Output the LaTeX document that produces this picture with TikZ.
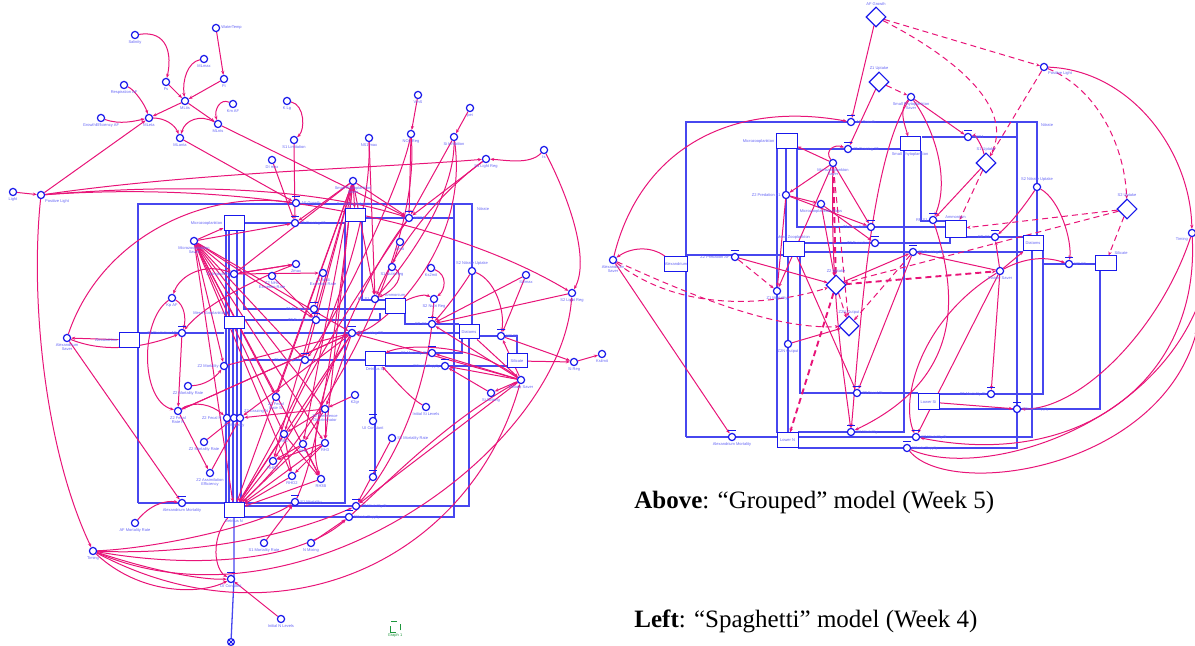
\documentclass[tikz,border=0pt]{standalone}
\usepackage{fontspec}
\setmainfont{Liberation Serif}
\newfontfamily\lblfont{Liberation Sans}
\usetikzlibrary{arrows.meta,shapes.geometric}
\pgfdeclarelayer{bg}
\pgfsetlayers{bg,main}
\definecolor{lkc}{RGB}{232,20,120}
\definecolor{blc}{RGB}{25,25,235}
\definecolor{lbc}{RGB}{100,100,245}
\definecolor{grc}{RGB}{30,150,60}
\tikzset{
 cv/.style={circle,draw=blc,line width=.6pt,minimum size=3.6pt,inner sep=0pt,fill=white},
 lbl/.style={font=\lblfont\fontsize{2}{2.3}\selectfont,text=lbc,inner sep=.4pt,align=center},
 stk/.style={draw=blc,line width=.5pt,fill=white,inner sep=0pt,font=\lblfont\fontsize{2}{2.3}\selectfont,text=lbc},
 fr/.style={draw=blc!80,line width=.65pt},
 lk/.style={draw=lkc,line width=.5pt,-{Stealth[length=2pt,width=1.6pt]}},
 dl/.style={lk,dash pattern=on 3pt off 2pt},
 tdl/.style={lk,line width=.95pt,dash pattern=on 3pt off 2pt},
 dia/.style={diamond,draw=blc,line width=.55pt,minimum size=10pt,inner sep=0pt,fill=white,aspect=1},
}
\newcommand\cnd[4]{\node[cv,label={[lbl]#4:{#3}}] (#1) at (#2) {};}
\newcommand\fnd[4]{\node[cv,label={[lbl]#4:{#3}}] (#1) at (#2) {};\draw[blc,line width=.5pt] ([xshift=-1.8pt,yshift=.9pt]#1.north)--([xshift=1.8pt,yshift=.9pt]#1.north);}
\begin{document}
\begin{tikzpicture}[x=0.5pt,y=-0.5pt]
\useasboundingbox (0,0) rectangle (1195,646);
% ================= LEFT (Spaghetti) =================
\node[stk,minimum width=10pt,minimum height=7.5pt,label={[lbl]left:Microzooplankton}] (Lmz) at (234,223.5) {};
\node[stk,minimum width=10pt,minimum height=6pt,label={[lbl]above left:Meso Zooplankton}] (Lmeso) at (234,323) {};
\node[stk,minimum width=10pt,minimum height=7.5pt,label={[lbl]left:Alexandrium}] (Lalex) at (129,340) {};
\node[stk,minimum width=10pt,minimum height=7.5pt,label={[lbl]below:Detritus N}] (Ldn) at (234,510) {};
\node[stk,minimum width=10pt,minimum height=6.5pt,label={[lbl]above:Small Phytoplankton}] (Lsp) at (355,215) {};
\node[stk,minimum width=10pt,minimum height=7.5pt,label={[lbl]above:Ammonium}] (Lamm) at (395,306) {};
\node[stk,minimum width=10pt,minimum height=7pt] (Ldia) at (469,332) {Diatoms};
\node[stk,minimum width=10pt,minimum height=7pt] (Lsil) at (517,361) {Silicate};
\node[stk,minimum width=10pt,minimum height=7pt,label={[lbl]below:Detritus Si}] (Ldsi) at (375,359) {};
\cnd{Lsal}{135,35}{Salinity}{below}
\cnd{Lwt}{216,28}{WaterTemp}{right}
\cnd{Lmlmax}{204,59}{MLmax}{below}
\cnd{Lfs}{166,82}{Fs}{below}
\cnd{Lft}{224,79}{Ft}{below}
\cnd{Lresp}{124,85}{Respiration AF}{below}
\cnd{Lmlt}{185,101}{MLtis}{below}
\cnd{Lkm}{233,104}{Km AF}{below}
\cnd{Lge}{101,118}{GrowthEfficiency AF}{below}
\cnd{Lmle}{149,118}{MLeta}{below}
\cnd{Lmln}{218,124}{MLnts}{below}
\cnd{Lmla}{180,138}{MLanta}{below}
\cnd{Lklg}{287,101}{K Lg}{below}
\cnd{Ls1l}{294,140}{S1 Limitation}{below}
\cnd{Ldi}{272,160}{DI max}{below}
\cnd{Llight}{13,192}{Light}{below}
\cnd{Lpl}{41,195}{Positive Light}{below right}
\fnd{Lafg}{296,203}{AF Growth}{right}
\cnd{Lvm}{418,95}{VmS}{below}
\cnd{Lpe}{470,108}{pei}{below}
\cnd{Lnsm}{369,138}{NS1 max}{below}
\cnd{Lnor}{411,134}{NO1 Reg}{below}
\cnd{Lsih}{454,137}{Si Inhibition}{below}
\cnd{Lis}{544,150}{Is}{below}
\cnd{Ls1lr}{486,159}{S1 Light Reg}{below}
\cnd{Lsps}{353,181}{Small Phytoplankton\\Saver}{below}
\fnd{Lz1g}{295,223}{Z1 Grazing S1}{right}
\cnd{Lmzs}{194,241}{Microzooplankton\\Saver}{below}
\cnd{Lz1i}{234,274}{Z1 Ingestion}{left}
\cnd{Lzmax}{296,264}{Zmax}{below}
\cnd{Lz2ne}{272,276}{Z2 NH4\\Excretion Rate}{below}
\cnd{Lz1ne}{323,273}{Z1 NH4\\Excretion Rate}{below}
\cnd{Lkp}{172,298}{Kp AF}{below}
\fnd{Lz1e}{314,309}{Z1 Excretion}{left}
\fnd{Lz2e}{316,320}{Z2 Excretion}{left}
\fnd{Lz2p}{182,333}{Z2 Predation AF}{left}
\cnd{Las}{67,338}{Alexandrium\\Saver}{below}
\fnd{Lz2gs2}{352,333}{Z2 Grazing S2}{right}
\fnd{Lz2gz1}{305,360}{Z2 Grazing Z1}{left}
\cnd{Lz2m}{224,366}{Z2 Mortality}{left}
\cnd{Lz2mr}{188,386}{Z2 Mortality Rate}{below}
\cnd{Lz2fs}{276,397}{Z2 Fecal\\Rate Si}{below}
\cnd{Lz2pd}{325,409}{Z2 Preference\\Discriminator}{below}
\cnd{Lk2}{355,395}{K2gr}{below}
\cnd{Lz2fr}{178,411}{Z2 Fecal\\Rate N}{below}
\cnd{Lz2fn}{227,418}{Z2 Fecal N}{left}
\cnd{Lz2mn}{234,418}{Z2 Mortality}{below}
\cnd{Lz2gn}{240,418}{Z2 Grazing N}{above right}
\cnd{Lz2mr2}{204,442}{Z2 Mortality Rate}{below}
\cnd{Lz2ae}{210,473}{Z2 Assimilation\\Efficiency}{below}
\cnd{Lrh1}{284,434}{RH1}{below}
\cnd{Lrh2}{303,444}{RH2}{below}
\cnd{Lrh3}{325,443}{RH3}{below}
\cnd{Lrh4}{273,461}{RHO1}{below}
\cnd{Lrh5}{292,476}{RHO2}{below}
\cnd{Lrh6}{321,479}{RH3B}{below}
\fnd{Lam}{182,503}{Alexandrium Mortality}{below}
\cnd{Lafmr}{135,523}{AF Mortality Rate}{below}
\fnd{Ls1m}{295,502}{S1 Mortality}{right}
\cnd{Ls1mr}{264,543}{S1 Mortality Rate}{below}
\cnd{Lnmix}{311,543}{N Mixing}{below}
\cnd{Ltim}{93,551}{Timing}{below}
\fnd{Ldic}{231,579}{DI Constant}{below}
\cnd{Linit}{281,619}{Initial N Levels}{below}
\node[cv,minimum size=3.4pt] (Lsink) at (231,642) {};
\draw[blc,line width=.4pt] (Lsink.north west) -- (Lsink.south east) (Lsink.north east) -- (Lsink.south west);
\fnd{Luic}{373,421}{UI Constant}{below}
\cnd{Ls2mr}{392,438}{S2 Mortality Rate}{right}
\fnd{Lval}{373,477}{}{below}
\fnd{Ls2mn}{356,506}{S2 Mortality N}{right}
\fnd{Lnsu}{349,517}{Nitrate Supply}{right}
\fnd{Lnps1}{409,218}{NPS1}{right}
\cnd{Lkmit}{400,242}{Kmit}{below}
\cnd{Ls1nr}{392,267}{S1 Nutri Reg}{below}
\cnd{Lks2}{431,268}{Ks2mit}{below}
\cnd{Lrps1}{375,299}{RP S1}{left}
\cnd{Ls2nr}{434,299}{S2 Nutri Reg}{below}
\fnd{Lrps2}{432,324}{RP S2}{left}
\cnd{Ls2nu}{472,271}{S2 Nitrate Uptake}{above}
\cnd{Lsi2}{526,275}{Si2max}{below}
\cnd{Ls2lr}{572,293}{S2 Light Reg}{below}
\fnd{Lnps2}{501,336}{NP S2}{right}
\cnd{Lsireg}{574,362}{Si Reg}{below}
\cnd{Lksil}{602,354}{Ksilmit}{below}
\cnd{Lds}{521,380}{Diatom Saver}{below}
\cnd{Lsis}{491,393}{Si Sinking}{below}
\cnd{Linsi}{426,407}{Initial Si Levels}{below}
\fnd{Lss}{445,366}{Silicate Supply}{left}
\fnd{Ls2ms}{432,353}{S2 Mortality Si}{left}
\node[draw=grc,dashed,line width=.3pt,minimum width=5pt,minimum height=5.5pt,inner sep=0pt,label={[lbl,text=grc]below:Graph 1}] (Lgraph) at (395,627) {};
% ================= RIGHT (Grouped) =================
\node[stk,minimum width=10.5pt,minimum height=7.5pt,label={[lbl]left:Microzooplankton}] (Rmz) at (786.5,141.5) {};
\node[stk,minimum width=10pt,minimum height=7pt,label={[lbl]below:Small Phytoplankton}] (Rspb) at (910,144) {};
\node[stk,minimum width=10.5pt,minimum height=8.5pt,label={[lbl]above:Ammonium}] (Ramm) at (955.5,229) {};
\node[stk,minimum width=10pt,minimum height=7.5pt] (Rdia) at (1033,243.5) {Diatoms};
\node[stk,minimum width=10.5pt,minimum height=7.5pt,label={[lbl]above:Meso Zooplankton}] (Rmeso) at (793.5,249) {};
\node[stk,minimum width=10pt,minimum height=7.5pt] (Ralex) at (676,264.5) {Alexandrium};
\node[stk,minimum width=10.5pt,minimum height=7.5pt,label={[lbl]above right:Silicate}] (Rsil) at (1105.5,263.5) {};
\node[stk,minimum width=10.5pt,minimum height=8pt] (Rlsi) at (928.5,402) {Lower Si};
\node[stk,minimum width=10.5pt,minimum height=7.5pt] (Rln) at (787.5,440.5) {Lower N};
\node[dia,label={[lbl]above:AF Growth}] (Rdafg) at (876,17) {};
\node[dia,label={[lbl]above:Z1 Uptake}] (Rdz1u) at (879,82) {};
\node[dia,label={[lbl]above:S1 Uptake}] (Rds1u) at (986,163) {};
\node[dia,label={[lbl]above:S2 Uptake}] (Rds2u) at (1127,209) {};
\node[dia,label={[lbl]above:Z2 Uptake}] (Rdz2u) at (836,285) {};
\node[dia,label={[lbl]above:Z2N Output}] (Rdz2n) at (849,326) {};
\cnd{Rpl}{1044,67}{Positive Light}{below right}
\cnd{Rsps}{911,97}{Small Phytoplankton\\Saver}{below}
\fnd{Rafg}{851,122}{AF Growth}{right}
\fnd{Rz1g}{848,149}{Z1 Grazing S1}{right}
\cnd{Rmzs}{833,163}{Microzooplankton\\Saver}{below}
\fnd{Rnps1}{968,137}{NPS1}{right}
\cnd{Rz2pz}{786,195}{Z2 Predation Z1}{left}
\cnd{Rmzm}{821,204}{Microzooplankton Mass}{below}
\fnd{Rz1e}{871,227}{Z1 Excretion}{left}
\cnd{Rs2nu}{1037,187}{S2 Nitrate Uptake}{above}
\fnd{Rrps1}{933,220}{RP S1}{left}
\fnd{Rrps2}{995,237}{RP S2}{left}
\fnd{Rz2e}{875,243}{Z2 Excretion}{left}
\fnd{Rz2g}{913,252}{Z2 Grazing S2}{right}
\cnd{Rds}{1000,271}{Diatom Saver}{below}
\fnd{Rnps2}{1069,264}{NP S2}{right}
\cnd{Ras}{613,260}{Alexandrium\\Saver}{below}
\fnd{Rz2p}{735,257}{Z2 Predation AF}{left}
\cnd{Rz1m}{777,291}{Z1 Mortality}{below}
\cnd{Rz2no}{788,344}{Z2N Output}{below}
\fnd{Rz2fs}{857,393}{Z2 Fecal Si}{right}
\fnd{Ram}{732,437}{Alexandrium Mortality}{below}
\fnd{Rs1m}{851,432}{S1 Mortality}{right}
\fnd{Rs2ms}{991,394}{S2 Mortality Si}{left}
\fnd{Rss}{1017,409}{Silicate Supply}{right}
\fnd{Rs2mn}{916,437}{S2 Mortality N}{right}
\fnd{Rns}{907,448}{Nitrate Supply}{right}
\cnd{Rtim}{1192,233}{Timing}{below left}
\coordinate (Redge) at (1200,300);
\coordinate (Redge2) at (1197,330);
\node[anchor=base west,inner sep=0pt,font=\fontsize{12.5}{14}\selectfont] (cap1) at (634,509) {\textbf{Above}: “Grouped” model (Week 5)};
\node[anchor=base west,inner sep=0pt,font=\fontsize{12.5}{14}\selectfont] (cap2) at (634,628) {\textbf{Left}: “Spaghetti” model (Week 4)};
\begin{pgfonlayer}{bg}
% ---------- left pipes ----------
\draw[fr] (138,503) -- (138,204) -- (472,204) -- (472,325);
\node[lbl,anchor=west] (Lnit) at (476,209) {Nitrate};
\draw[fr] (138,503) -- (224,503);
\draw[fr] (244,223) -- (345,223);
\draw[fr] (365,218) -- (454,218);
\draw[fr] (454,204) -- (454,517) -- (244,517);
\draw[fr] (469,339) -- (469,506) -- (244,506);
\draw[fr] (345,222) -- (345,503) -- (244,503);
\draw[fr] (362,222) -- (362,300) -- (386,300);
\draw[fr] (405,313) -- (405,324) -- (459,324);
\draw[fr] (139,333) -- (224,333);
\draw[fr] (244,333) -- (459,333);
\draw[fr] (244,231) -- (244,309) -- (386,309);
\draw[fr] (244,320) -- (380,320) -- (380,313);
\draw[fr] (244,360) -- (365,360);
\draw[fr] (462,339) -- (462,353) -- (385,353);
\draw[fr] (385,366) -- (507,366);
\draw[fr] (517,354) -- (517,336) -- (479,336);
\draw[fr] (375,366) -- (375,477);
\foreach \xx in {226,229,237} \draw[fr] (\xx,231) -- (\xx,318);
\foreach \xx in {226,229,233,237,241} \draw[fr] (\xx,327) -- (\xx,503);
\draw[fr] (234,518) -- (234,579) -- (Lsink);
% ---------- left links ----------
\draw[lk] (Lsal) .. controls (168,30) and (172,55) .. (Lfs);
\draw[lk] (Lwt) -- (Lft);
\draw[lk] (Lmlmax) .. controls (188,62) and (182,80) .. (Lmlt);
\draw[lk] (Lfs) -- (Lmlt);
\draw[lk] (Lft) -- (Lmlt);
\draw[lk] (Lmlt) -- (Lmle);
\draw[lk] (Lresp) .. controls (135,90) and (145,105) .. (Lmle);
\draw[lk] (Lge) .. controls (120,125) and (135,121) .. (Lmle);
\draw[lk] (Lmlt) -- (Lmln);
\draw[lk] (Lkm) .. controls (220,98) and (214,110) .. (Lmln);
\draw[lk] (Lmln) .. controls (200,114) and (185,120) .. (Lmla);
\draw[lk] (Lmle) .. controls (165,118) and (175,125) .. (Lmla);
\draw[lk] (Lpl) -- (Lmle);
\draw[lk] (Llight) -- (Lpl);
\draw[lk] (Lmla) -- (Lafg);
\draw[lk] (Lmln) -- (Lnps1);
\draw[lk] (Lklg) .. controls (305,105) and (305,130) .. (Ls1l);
\draw[lk] (Ls1l) -- (Lz1g);
\draw[lk] (Ldi) -- (Lz1g);
\draw[lk] (Lpl) .. controls (200,172) and (380,168) .. (Ls1lr);
\draw[lk] (Lpl) .. controls (200,182) and (320,190) .. (Lnps1);
\draw[lk] (Lpl) .. controls (250,180) and (450,220) .. (Ls2lr);
\draw[lk] (Lpl) .. controls (30,300) and (45,450) .. (Ltim);
\draw[lk] (Las) .. controls (100,240) and (200,190) .. (Lafg);
\draw[lk] (Lalex) -- (Las);
\draw[lk] (Las) .. controls (110,355) and (150,345) .. (Lz2p);
\draw[lk] (Las) -- (Lam);
\draw[lk] (Lkp) .. controls (185,305) and (186,320) .. (Lz2p);
\draw[lk] (Lkp) .. controls (140,320) and (140,400) .. (Lz2fr);
\draw[lk] (Lz2p) -- (Lz2fr);
\draw[lk] (Lz1i) .. controls (205,262) and (180,275) .. (Lkp);
\draw[lk] (Lzmax) .. controls (240,285) and (200,310) .. (Lz2p);
\draw[lk] (Lmzs) -- (Lmz);
\draw[lk] (Lmzs) -- (Lz1g);
\foreach \t in {Lz1i,Lz2m,Lz2gz1,Lz2e,Lrh1,Lrh3,Lz2pd,Ldn,Lrh6,Lz2gs2,Lz2fs,Lrh5}
  \draw[lk] (Lmzs) -- (\t);
\draw[lk] (Lzmax) -- (Lz1i);
\draw[lk] (Lz2ne) -- (Lz2e);
\draw[lk] (Lz1ne) -- (Lz1e);
\draw[lk] (Lz2mr) .. controls (205,385) and (215,378) .. (Lz2m);
\draw[lk] (Lz2fr) .. controls (195,400) and (212,405) .. (Lz2fn);
\draw[lk] (Lz2mr2) -- (Lz2mn);
\draw[lk] (Lz2ae) -- (Lz2gn);
\draw[lk] (Lz2fr) -- (Lz2ae);
\foreach \t in {Lrh1,Lrh2,Lrh3,Lrh4,Lrh5,Lrh6} \draw[lk] (\t) -- (Ldn);
\draw[lk] (Lrh1) -- (Lrh5);
\draw[lk] (Lrh3) -- (Lrh4);
\draw[lk] (Lrh2) -- (Lrh6);
\draw[lk] (Lrh1) -- (Lrh6);
\draw[lk] (Lrh3) -- (Lrh5);
\draw[lk] (Lrh2) -- (Lrh4);
\foreach \t in {Lrh1,Lrh2,Lrh3,Lz2gn} \draw[lk] (Lz2pd) -- (\t);
\draw[lk] (Lk2) -- (Lz2pd);
\draw[lk] (Lz2gs2) -- (Lz2pd);
\draw[lk] (Lz2gs2) -- (Lrh4);
\draw[lk] (Lz2gs2) -- (Lz2fr);
\draw[lk] (Lz2gs2) -- (Lz2gn);
\draw[lk] (Lz2gs2) -- (Ldn);
\foreach \t in {Lsp,Lz1g,Lz1i,Ldn,Lrh2,Lrh3,Lz2fs,Lz2gz1,Lrh4,Lrps1,Lnps1}
  \draw[lk] (Lsps) -- (\t);
\draw[lk] (Lnsm) -- (Lrps1);
\draw[lk] (Lvm) -- (Lnor);
\draw[lk] (Lpe) -- (Lsih);
\draw[lk] (Lnor) -- (Lnps1);
\draw[lk] (Lsih) -- (Lnps1);
\draw[lk] (Ls1lr) -- (Lnps1);
\draw[lk] (Lsih) .. controls (455,200) and (400,270) .. (Lrps1);
\draw[lk] (Ls1lr) .. controls (430,200) and (390,260) .. (Lrps1);
\draw[lk] (Lsih) .. controls (470,250) and (380,330) .. (Lz2gs2);
\draw[lk] (Lnsm) .. controls (372,250) and (300,400) .. (Ldn);
\draw[lk] (Lnor) .. controls (420,250) and (330,420) .. (Ldn);
\draw[lk] (Lnps1) .. controls (380,260) and (300,380) .. (Lrh1);
\draw[lk] (Lnps1) .. controls (360,280) and (300,420) .. (Lrh6);
\draw[lk] (Lnor) .. controls (400,190) and (330,330) .. (Lz2gz1);
\draw[lk] (Lz1i) -- (Lz1ne);
\draw[lk] (Lz1i) -- (Lzmax);
\draw[lk] (Lz2m) -- (Lz2gs2);
\draw[lk] (Lz2fr) -- (Lz2gs2);
\draw[lk] (Ldia) -- (Lds);
\draw[lk] (Lds) -- (Lnps2);
\draw[lk] (Lds) -- (Lss);
\draw[lk] (Lds) -- (Ls2ms);
\draw[lk] (Lds) -- (Lz2gs2);
\draw[lk] (Lds) -- (Lrps2);
\draw[lk] (Lds) .. controls (470,340) and (400,345) .. (Ldsi);
\draw[lk] (Ls2lr) -- (Lrps2);
\draw[lk] (Lis) .. controls (570,200) and (590,260) .. (Ls2lr);
\draw[lk] (Lis) .. controls (530,165) and (505,160) .. (Ls1lr);
\draw[lk] (Lsi2) -- (Lrps2);
\draw[lk] (Lsi2) -- (Lnps2);
\draw[lk] (Ls2nu) .. controls (460,290) and (445,310) .. (Lrps2);
\draw[lk] (Ls2nu) .. controls (495,280) and (505,310) .. (Lnps2);
\draw[lk] (Lks2) .. controls (448,275) and (445,290) .. (Ls2nr);
\draw[lk] (Ls2nr) -- (Lrps2);
\draw[lk] (Lamm) .. controls (415,296) and (425,294) .. (Ls2nr);
\draw[lk] (Lkmit) -- (Ls1nr);
\draw[lk] (Ls1nr) .. controls (405,275) and (395,290) .. (Lrps1);
\draw[lk] (Lnps2) -- (Lsireg);
\draw[lk] (Lsireg) -- (Lksil);
\draw[lk] (Lsil) -- (Lsireg);
\draw[lk] (Lsis) -- (Lss);
\draw[lk] (Lds) -- (Lsis);
\draw[lk] (Linsi) .. controls (410,398) and (395,380) .. (Ldsi);
\draw[lk] (Lafmr) .. controls (150,505) and (165,500) .. (Lam);
\draw[lk] (Ltim) .. controls (150,570) and (200,580) .. (Ldic);
\draw[lk] (Ltim) .. controls (140,595) and (200,595) .. (Ldic);
\draw[lk] (Ltim) .. controls (200,570) and (300,560) .. (Lnsu);
\draw[lk] (Ltim) .. controls (180,555) and (280,540) .. (Ls2mn);
\draw[lk] (Ltim) .. controls (160,548) and (260,525) .. (Ls1m);
\draw[lk] (Ldn) .. controls (210,540) and (215,570) .. (Ldic);
\draw[lk] (Linit) -- (Ldic);
\draw[lk] (Ls1mr) -- (Ls1m);
\draw[lk] (Lnmix) -- (Lnsu);
\draw[lk] (Ls2mr) -- (Ls2mn);
\draw[lk] (Lds) -- (Ls2mn);
\draw[lk] (Lrps2) .. controls (420,420) and (380,480) .. (Ls2mn);
\draw[lk] (Ltim) .. controls (280,650) and (470,560) .. (Lds);
\draw[lk] (Ltim) .. controls (300,640) and (560,450) .. (Ls2lr);
\draw[lk] (Lnsu) .. controls (400,470) and (450,420) .. (Lds);
\draw[lk] (Ls1m) .. controls (320,450) and (340,300) .. (Lsps);
% ---------- right pipes ----------
\draw[fr] (686,437) -- (686,122) -- (1037,122) -- (1037,236);
\node[lbl,anchor=west] (Rnit) at (1040,125) {Nitrate};
\draw[fr] (1017,122) -- (1017,448) -- (798,448);
\draw[fr] (922,137) -- (1017,137);
\draw[fr] (797,149) -- (900,149);
\draw[fr] (777,149) -- (777,433);
\draw[fr] (786,149) -- (786,241);
\draw[fr] (797,149) -- (797,227) -- (945,227);
\draw[fr] (804,243) -- (950,243) -- (950,238);
\draw[fr] (804,252) -- (1023,252);
\draw[fr] (686,255) -- (783,255);
\draw[fr] (904,151) -- (904,432) -- (798,432);
\draw[fr] (921,151) -- (921,221) -- (945,221);
\draw[fr] (966,237) -- (1023,237);
\draw[fr] (1043,251) -- (1043,394) -- (939,394);
\draw[fr] (1043,264) -- (1095,264);
\draw[fr] (1032,251) -- (1032,437) -- (798,437);
\draw[fr] (1100,271) -- (1100,409) -- (939,409);
\draw[fr] (788,257) -- (788,433);
\draw[fr] (800,257) -- (800,393) -- (918,393);
\draw[fr] (686,437) -- (777,437);
% ---------- right links ----------
\draw[lk] (Rdafg) -- (Rafg);
\draw[lk] (Rdz1u) -- (Rz1g);
\draw[lk] (Ras) .. controls (640,150) and (730,100) .. (Rafg);
\draw[lk] (Ralex) .. controls (650,245) and (630,248) .. (Ras);
\draw[lk] (Ras) -- (Ram);
\draw[lk] (Rz2p) -- (Rdz2u);
\draw[lk] (Rmzs) -- (Rmz);
\draw[lk] (Rmzs) .. controls (824,150) and (835,144) .. (Rz1g);
\draw[lk] (Rmzs) -- (Rz1m);
\draw[lk] (Rmzs) -- (Rz1e);
\draw[lk] (Rmzs) -- (Rz2pz);
\draw[lk] (Rmzs) .. controls (830,300) and (845,380) .. (Rs1m);
\draw[lk] (Rz2pz) -- (Rmzm);
\draw[lk] (Rz2pz) -- (Rz1e);
\draw[lk] (Rz2pz) -- (Rz1m);
\draw[lk] (Rmzm) -- (Rz2e);
\draw[lk] (Rmzm) -- (Rdz2u);
\draw[lk] (Rsps) .. controls (898,110) and (905,125) .. (Rspb);
\draw[lk] (Rsps) -- (Rnps1);
\draw[lk] (Rsps) .. controls (935,130) and (950,180) .. (Rrps1);
\draw[lk] (Rsps) .. controls (870,160) and (860,330) .. (Rs1m);
\draw[lk] (Rds1u) .. controls (982,145) and (975,135) .. (Rnps1);
\draw[lk] (Rds1u) -- (Rrps1);
\draw[lk] (Rs2nu) .. controls (1025,205) and (1012,222) .. (Rrps2);
\draw[lk] (Rs2nu) .. controls (1060,200) and (1072,240) .. (Rnps2);
\draw[lk] (Rds) -- (Rrps2);
\draw[lk] (Rds) -- (Rdia);
\draw[lk] (Rds) .. controls (1030,255) and (1050,258) .. (Rnps2);
\draw[lk] (Rds) -- (Rs2ms);
\draw[lk] (Rds) -- (Rs2mn);
\draw[lk] (Rds) .. controls (920,320) and (900,400) .. (Rs2mn);
\draw[lk] (Rds) -- (Rz2g);
\draw[lk] (Rdz2u) -- (Rz2g);
\draw[lk] (Rz2no) -- (Rdz2n);
\draw[lk] (Rmeso) -- (Rz2fs);
\draw[lk] (Rz2g) -- (Rz2fs);
\draw[lk] (Rrps1) .. controls (960,300) and (960,380) .. (Rs1m);
\draw[lk] (Rlsi) -- (Rss);
\draw[lk] (Rpl) .. controls (1130,70) and (1190,150) .. (Rtim);
\draw[lk] (Rtim) .. controls (1160,330) and (1080,410) .. (Rss);
\draw[lk] (Rns) .. controls (980,480) and (1150,430) .. (Redge);
\draw[lk] (Rtim) .. controls (1200,380) and (1080,470) .. (Rs2mn);
\draw[lk] (Rns) .. controls (950,500) and (1160,470) .. (Redge2);
% dashed
\draw[dl] (Rdafg) -- (Rpl);
\draw[dl] (Rdafg) .. controls (960,60) and (1015,110) .. (Rds1u);
\draw[dl] (Rdz1u) -- (Rsps);
\draw[dl] (Rpl) -- (Rds1u);
\draw[dl] (Rpl) .. controls (1100,90) and (1125,150) .. (Rds2u);
\draw[dl] (Rds1u) -- (Ramm);
\draw[dl] (Rds2u) -- (Ramm);
\draw[dl] (Rds2u) -- (Rsil);
\draw[dl] (Rds2u) -- (Rdz2u);
\draw[tdl] (Rmzs) -- (Rdz2u);
\draw[tdl] (Rdz2u) -- (Rln);
\draw[tdl] (Rdz2u) -- (Rds);
\draw[dl] (Ras) .. controls (690,320) and (790,300) .. (Rdz2u);
\draw[dl] (Ras) .. controls (680,290) and (770,330) .. (Rdz2n);
\draw[dl] (Rz2p) -- (Rz1m);
\draw[dl] (Rmzs) -- (Rdz2n);
\draw[dl] (Rdz2u) -- (Rdz2n);
\draw[dl] (Rz2g) -- (Rdz2n);
\end{pgfonlayer}
\end{tikzpicture}
\end{document}
